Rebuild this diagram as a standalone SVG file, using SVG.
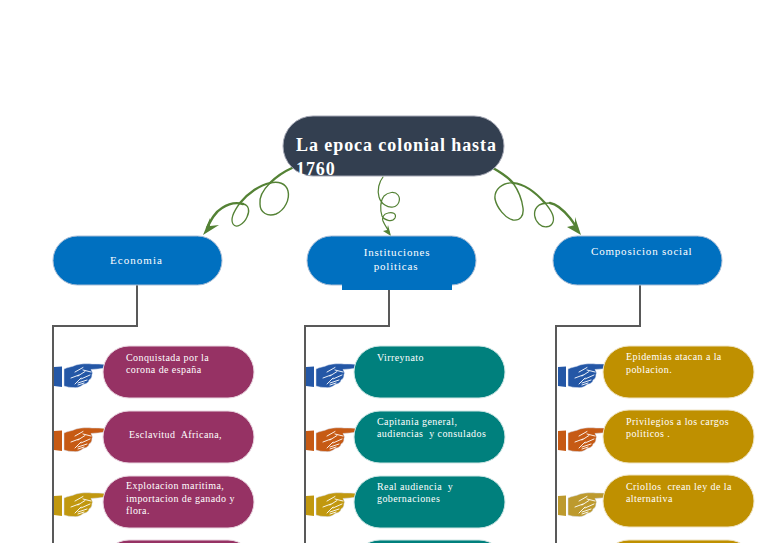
<svg xmlns="http://www.w3.org/2000/svg" width="768" height="543" viewBox="0 0 768 543">
<style>
text{font-family:"Liberation Serif","Times New Roman",serif;fill:#fff;white-space:pre}
.t{font-size:10px;letter-spacing:.42px}
.h{font-size:11px;letter-spacing:.8px}
.root{font-size:18px;font-weight:bold;letter-spacing:.93px}
.blue{fill:#0070c0;stroke:#a9bdd6;stroke-width:1}
.pur{fill:#963264;stroke:#e9d6e0;stroke-width:1}
.teal{fill:#00807d;stroke:#cfe6e5;stroke-width:1}
.gold{fill:#bf9000;stroke:#efe3c2;stroke-width:1}
.ln{fill:none;stroke:#595959;stroke-width:2}
.vine{fill:none;stroke:#548235;stroke-linecap:round}
.vh{fill:#548235}
.c1{color:#2457a6}.c2{color:#c65a14}.c3{color:#c1980f}.c4{color:#bd9a2e}
</style>
<defs>
<g id="hand">
<path d="M0 3L8 2.500V23L0 22Z" fill="currentColor"/>
<path d="M10 5C14 3 18 3 22 1C27 -.5 34 -.5 38 0C43 0 47 0 51 .5V4C46 5 42 5 37 5.500C38 7.500 39 9 38 10.500C38 13.500 37 15 35 16C35 19 31 20 29 20.500C27 23 23 24 19 23.500C16 23.500 13 23 10 22Z" fill="currentColor" stroke="#d7dfee" stroke-width=".5"/>
<path d="M21 8L29 3.500M29 6L37 8M24 12L31 7.500M27 15L36 11M24 19L33 16M17 14L25 11M21 20L27 14M30 19L24 21" fill="none" stroke="#fff" stroke-width=".9" stroke-linecap="round"/>
</g>
</defs>

<g id="connectors">
<path class="ln" d="M137 285V326H53V543"/>
<path class="ln" d="M389 290V326H305V543"/>
<path class="ln" d="M640 285V326H556V543"/>
<path class="vine" stroke-width="2.400" d="M292 168C283 172 276 177 270 183"/>
<path class="vine" stroke-width="1.400" d="M270 183C263 190 259 197 260 204C260 213 268 217 276 214C285 210 290 199 288 191C286 183 278 181 270 183"/>
<path class="vine" stroke-width="2.200" d="M270 183C260 185 248 193 240 203"/>
<path class="vine" stroke-width="1.300" d="M240 203C234 211 230 219 233 224C236 229 244 224 247 217C250 211 249 205 243 204"/>
<path class="vine" stroke-width="2.400" d="M243 204C236 202 228 204 222 208C215 212 211 220 207 228"/>
<path class="vh" d="M203 235L210 218L210 226L219 225Z"/>
<path class="vine" stroke-width="2.400" d="M493 168C500 172 508 177 513 183"/>
<path class="vine" stroke-width="1.400" d="M513 183C518 190 522 200 523 208C524 216 520 221 513 220C505 218 497 208 495 199C494 190 502 182 513 183"/>
<path class="vine" stroke-width="2.200" d="M513 183C525 184 537 194 545 203"/>
<path class="vine" stroke-width="1.300" d="M545 203C551 210 555 217 553 222C551 228 543 228 539 224C534 219 533 212 537 207C540 203 545 203 550 203"/>
<path class="vine" stroke-width="2.400" d="M550 203C558 204 565 212 570 218C573 222 575 225 577 228"/>
<path class="vh" d="M581 235L567 227L575 225L575 217Z"/>
<path class="vine" stroke-width="1.200" d="M383 177C379 182 377 190 379 197C381 204 388 208 393 207C399 206 401 199 398 195C395 191 388 192 384 196C380 201 380 210 382 216C384 220 392 223 395 218C397 213 392 212 388 213C383 214 382 218 383 221C385 226 388 229 389 232"/>
<path class="vh" d="M391 236L383 231L387 230L388 225Z"/>
</g>

<g id="root"><rect x="283" y="116" width="221" height="60" rx="30" fill="#333f50" stroke="#a5a8b5" stroke-width="1"/>
<text class="root" x="296" y="151">La epoca colonial hasta</text><text class="root" x="296" y="175">1760</text></g>

<g id="economia"><rect class="blue" x="53" y="236" width="169" height="49" rx="24.500"/><text class="h" x="110" y="264" style="letter-spacing:1.05px">Economia</text></g>
<g id="instituciones"><rect class="blue" x="307" y="236" width="169" height="49" rx="24.500"/><rect x="342" y="283" width="110" height="7" fill="#0070c0"/><text class="h" x="397" y="256" text-anchor="middle">Instituciones</text><text class="h" x="396" y="270" text-anchor="middle">politicas</text></g>
<g id="composicion"><rect class="blue" x="553" y="236" width="169" height="49" rx="24.500"/><text class="h" x="591" y="255">Composicion social</text></g>

<g id="e1"><use href="#hand" x="54" y="364" class="c1"/><rect class="pur" x="103" y="346" width="151" height="52" rx="26"/><text class="t" x="126" y="361">Conquistada por la</text><text class="t" x="126" y="373">corona de españa</text></g>
<g id="e2"><use href="#hand" x="54" y="428" class="c2"/><rect class="pur" x="103" y="411" width="151" height="52" rx="26"/><text class="t" x="129" y="438">Esclavitud  Africana,</text></g>
<g id="e3"><use href="#hand" x="54" y="493" class="c3"/><rect class="pur" x="103" y="476" width="151" height="52" rx="26"/><text class="t" x="126" y="489">Explotacion maritima,</text><text class="t" x="126" y="502">importacion de ganado y</text><text class="t" x="126" y="514">flora.</text></g>
<g id="e4"><rect class="pur" x="103" y="540" width="151" height="52" rx="26"/></g>

<g id="i1"><use href="#hand" x="306" y="364" class="c1"/><rect class="teal" x="354" y="346" width="151" height="52" rx="26"/><text class="t" x="377" y="361">Virreynato</text></g>
<g id="i2"><use href="#hand" x="306" y="428" class="c2"/><rect class="teal" x="354" y="411" width="151" height="52" rx="26"/><text class="t" x="377" y="425">Capitania general,</text><text class="t" x="377" y="437">audiencias  y consulados</text></g>
<g id="i3"><use href="#hand" x="306" y="493" class="c3"/><rect class="teal" x="354" y="476" width="151" height="52" rx="26"/><text class="t" x="377" y="490">Real audiencia  y</text><text class="t" x="377" y="502">gobernaciones</text></g>
<g id="i4"><rect class="teal" x="354" y="540" width="151" height="52" rx="26"/></g>

<g id="c1"><use href="#hand" x="558" y="364" class="c1"/><rect class="gold" x="603" y="346" width="151" height="52" rx="26"/><text class="t" x="626" y="360">Epidemias atacan a la</text><text class="t" x="626" y="373">poblacion.</text></g>
<g id="c2"><use href="#hand" x="558" y="428" class="c2"/><rect class="gold" x="603" y="410" width="151" height="53" rx="26"/><text class="t" x="626" y="425">Privilegios a los cargos</text><text class="t" x="626" y="437">politicos .</text></g>
<g id="c3"><use href="#hand" x="558" y="493" class="c4"/><rect class="gold" x="603" y="475" width="151" height="52" rx="26"/><text class="t" x="626" y="490">Criollos  crean ley de la</text><text class="t" x="626" y="502">alternativa</text></g>
<g id="c4"><rect class="gold" x="603" y="540" width="151" height="52" rx="26"/></g>
</svg>
